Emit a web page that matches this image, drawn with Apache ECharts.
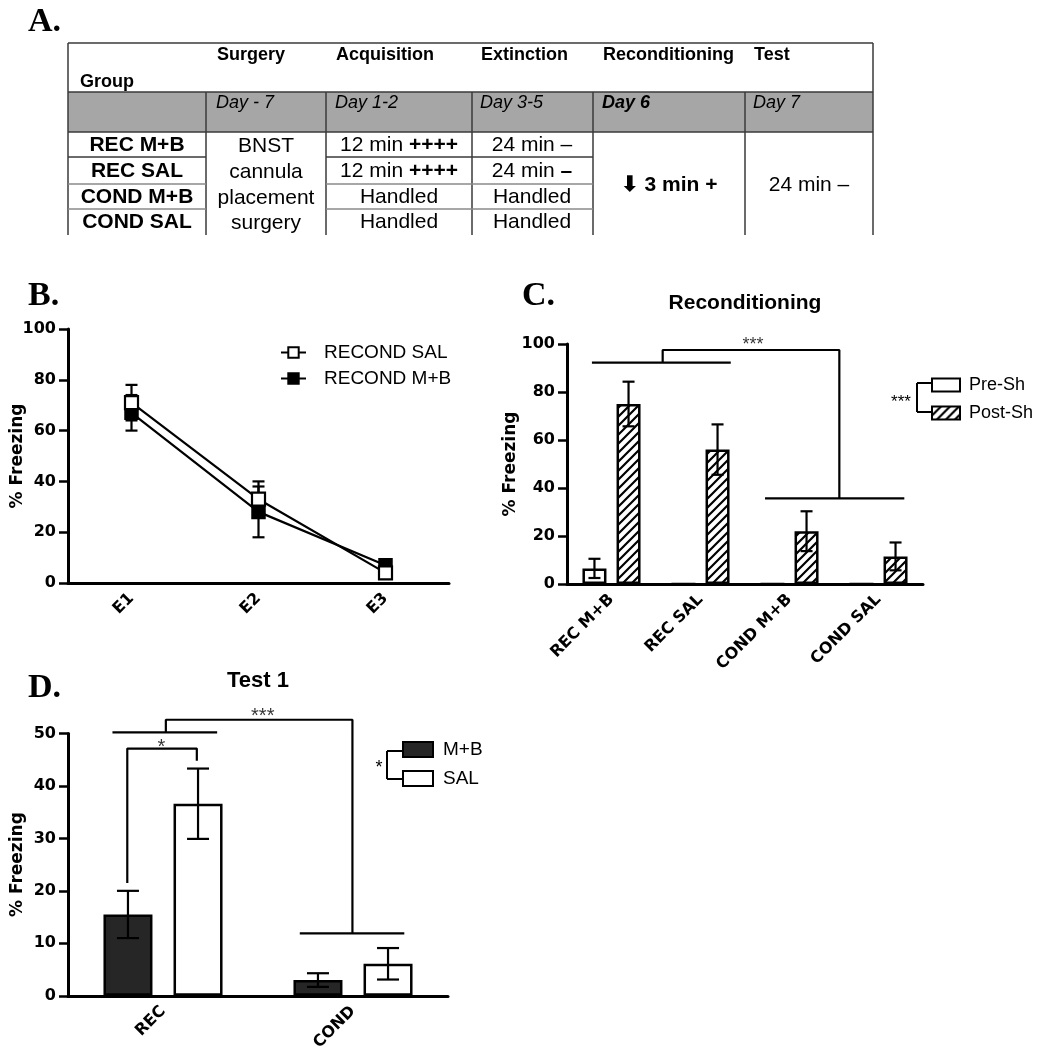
<!DOCTYPE html>
<html><head><meta charset="utf-8">
<script src="https://cdn.jsdelivr.net/npm/echarts@6/dist/echarts.min.js"></script>
<style>html,body{margin:0;padding:0;background:#fff}#c{width:1046px;height:1050px}</style>
</head><body><div id="c"></div>
<script>
// ---------------- DATA ----------------
const tableHeaders = ['Surgery', 'Acquisition', 'Extinction', 'Reconditioning', 'Test'];
const tableDays = ['Day - 7', 'Day 1-2', 'Day 3-5', 'Day 6', 'Day 7'];
const tableGroups = ['REC M+B', 'REC SAL', 'COND M+B', 'COND SAL'];
const surgeryLines = ['BNST', 'cannula', 'placement', 'surgery'];
const acquisitionCells = ['12 min {b|++++}', '12 min {b|++++}', 'Handled', 'Handled'];
const extinctionCells = ['24 min –', '24 min {b|–}', 'Handled', 'Handled'];
const reconditioningCell = '⬇ 3 min +';
const testCell = '24 min –';

const catsB = ['E1', 'E2', 'E3'];
const salB = [71, 33, 4];
const salBErr = [7, 7, 2];
const mbB = [67, 28, 7];
const mbBErr = [7, 10, 2];

const catsC = ['REC M+B', 'REC SAL', 'COND M+B', 'COND SAL'];
const preC = [6.5, 0, 0, 0];
const preCErr = [4, 0, 0, 0];
const postC = [75, 56, 22, 11.5];
const postCErr = [9.3, 10.5, 8.3, 5.8];

const catsD = ['REC', 'COND'];
const mbD = [15.5, 3.0];
const mbDErr = [4.5, 1.3];
const salD = [36.6, 6.1];
const salDErr = [6.7, 3.0];

// significance brackets: [categoryPosition, value]
const bracketsC = [
  [[-0.22, 92.2], [1.34, 92.2]],
  [[0.575, 92.2], [0.575, 97.5], [2.56, 97.5], [2.56, 35.7]],
  [[1.725, 35.7], [3.29, 35.7]]
];
const starsC = [{ value: [1.59, 99.4], name: '***' }];
const bracketsD = [
  [[-0.188, 21.5], [-0.188, 47.1], [0.178, 47.1], [0.178, 44.8]],
  [[-0.266, 50.2], [0.285, 50.2]],
  [[0.015, 50.2], [0.015, 52.6], [0.997, 52.6], [0.997, 11.9]],
  [[0.72, 11.9], [1.27, 11.9]]
];
const starsD = [{ value: [-0.008, 47.4], name: '*' }, { value: [0.525, 53.3], name: '***' }];

// ---------------- STYLE HELPERS ----------------
const AXF = 'DejaVu Sans';
const TXF = 'Liberation Sans';
const BLACK = '#000';

function hatch() {
  const s = 9;
  const c = document.createElement('canvas'); c.width = s; c.height = s;
  const g = c.getContext('2d');
  g.fillStyle = '#fff'; g.fillRect(0, 0, s, s);
  g.strokeStyle = '#000'; g.lineWidth = 2.2; g.lineCap = 'square';
  g.beginPath();
  g.moveTo(0, s); g.lineTo(s, 0);
  g.moveTo(-s / 2, s / 2); g.lineTo(s / 2, -s / 2);
  g.moveTo(s / 2, s * 1.5); g.lineTo(s * 1.5, s / 2);
  g.stroke();
  return c;
}
const hatchPattern = { image: hatch(), repeat: 'repeat' };

function catAxis(gi, data) {
  return {
    type: 'category', gridIndex: gi, data: data, boundaryGap: true,
    axisLine: { onZero: false, lineStyle: { color: BLACK, width: 3 } },
    axisTick: { alignWithLabel: true, length: 10, lineStyle: { color: BLACK, width: 3 } },
    axisLabel: { rotate: 45, margin: 13, color: BLACK, fontFamily: AXF, fontWeight: 'bold', fontSize: 16 },
    splitLine: { show: false }
  };
}
function hiddenAxis(gi, n) {
  return { type: 'value', gridIndex: gi, min: -0.5, max: n - 0.5, show: false };
}
function valAxis(gi, max, interval, nameGap) {
  return {
    type: 'value', gridIndex: gi, min: 0, max: max, interval: interval,
    axisLine: { show: true, onZero: false, lineStyle: { color: BLACK, width: 3 } },
    axisTick: { show: true, length: 9, lineStyle: { color: BLACK, width: 2.5 } },
    axisLabel: { margin: 12, color: BLACK, fontFamily: AXF, fontWeight: 'bold', fontSize: 16 },
    splitLine: { show: false },
    name: '% Freezing', nameLocation: 'middle', nameGap: nameGap, nameMoveOverlap: false,
    nameTextStyle: { color: BLACK, fontFamily: AXF, fontWeight: 'bold', fontSize: 17 }
  };
}
function errSeries(xi, yi, means, errs, offsetPx, capW, z) {
  return {
    type: 'custom', xAxisIndex: xi, yAxisIndex: yi, z: z, clip: false,
    data: means.map((m, i) => [i, m, errs[i]]),
    encode: { x: 0, y: 1 },
    renderItem: function (params, api) {
      const idx = api.value(0), m = api.value(1), e = api.value(2);
      if (!e) return null;
      const t = api.coord([idx, m + e]);
      const b = api.coord([idx, m - e]);
      const x = t[0] + offsetPx;
      const st = { stroke: BLACK, lineWidth: 2.2 };
      return {
        type: 'group', children: [
          { type: 'line', shape: { x1: x, y1: t[1], x2: x, y2: b[1] }, style: st },
          { type: 'line', shape: { x1: x - capW / 2, y1: t[1], x2: x + capW / 2, y2: t[1] }, style: st },
          { type: 'line', shape: { x1: x - capW / 2, y1: b[1], x2: x + capW / 2, y2: b[1] }, style: st }
        ]
      };
    }
  };
}
function bracketSeries(xi, yi, pts) {
  return {
    type: 'line', xAxisIndex: xi, yAxisIndex: yi, data: pts, symbol: 'none', clip: false,
    lineStyle: { color: BLACK, width: 2.2 }, z: 5, silent: true
  };
}
function starSeries(xi, yi, data, size) {
  return {
    type: 'scatter', xAxisIndex: xi, yAxisIndex: yi, data: data, symbolSize: 1, clip: false,
    itemStyle: { color: 'rgba(0,0,0,0)' }, z: 6, silent: true,
    label: { show: true, position: 'inside', formatter: '{b}', color: BLACK, fontFamily: TXF, fontSize: size }
  };
}

// bar layout (C and D)
const bwC = 24, gapC = 0.42, offC = (bwC + bwC * gapC) / 2;
const bwD = 49, gapD = 0.43, offD = (bwD + bwD * gapD) / 2;

// ---------------- TABLE GRAPHICS ----------------
const G = [];
const TT = 43, TB = 235;
const lineC = '#3a3a3a';
function L(x1, y1, x2, y2, c, w) { G.push({ type: 'line', shape: { x1, y1, x2, y2 }, style: { stroke: c || lineC, lineWidth: w || 1.5 }, silent: true }); }
function T(x, y, text, o) {
  o = o || {};
  G.push({
    type: 'text', x: x, y: y, silent: true,
    style: {
      text: text, fill: BLACK, fontFamily: o.family || TXF, fontSize: o.size || 21,
      fontWeight: o.weight || 'normal', fontStyle: o.style || 'normal',
      textAlign: o.align || 'center', textVerticalAlign: 'middle',
      rich: o.rich
    }
  });
}
G.push({ type: 'rect', shape: { x: 68, y: 92, width: 805, height: 40 }, style: { fill: '#a6a6a6' }, silent: true });
L(68, TT, 873, TT); L(68, TT, 68, TB); L(873, TT, 873, TB);
L(68, 92, 873, 92); L(68, 132, 873, 132);
[206, 326, 472, 593, 745].forEach(x => L(x, 92, x, TB));
[[157, '#3a3a3a'], [184, '#8a8a8a'], [209, '#8a8a8a']].forEach(([y, c]) => { L(68, y, 206, y, c); L(326, y, 593, y, c); });
T(80, 82, 'Group', { align: 'left', weight: 'bold', size: 18 });
const hdrX = [217, 336, 481, 603, 754];
tableHeaders.forEach((h, i) => T(hdrX[i], 55, h, { align: 'left', weight: 'bold', size: 18 }));
tableDays.forEach((d, i) => T(hdrX[i] - 1, 103, d, { align: 'left', style: 'italic', size: 18, weight: i === 3 ? 'bold' : 'normal' }));
const rowY = [145, 171, 197, 222];
const richB = { b: { fontWeight: 'bold', fontSize: 21, fontFamily: TXF, fill: BLACK } };
tableGroups.forEach((g, i) => T(137, rowY[i], g, { weight: 'bold' }));
surgeryLines.forEach((s, i) => T(266, rowY[i] + 1, s));
acquisitionCells.forEach((s, i) => T(399, rowY[i], s, { rich: richB }));
extinctionCells.forEach((s, i) => T(532, rowY[i], s, { rich: richB }));
T(669, 185, reconditioningCell, { weight: 'bold' });
T(809, 185, testCell);

// panel letters & titles
const PF = 'Liberation Serif';
T(28, 22, 'A.', { align: 'left', family: PF, weight: 'bold', size: 34 });
T(28, 296, 'B.', { align: 'left', family: PF, weight: 'bold', size: 34 });
T(522, 296, 'C.', { align: 'left', family: PF, weight: 'bold', size: 34 });
T(28, 688, 'D.', { align: 'left', family: PF, weight: 'bold', size: 34 });
T(745, 303, 'Reconditioning', { weight: 'bold', size: 21 });
T(258, 681, 'Test 1', { weight: 'bold', size: 22 });

// legend brackets
L(917, 383, 931, 383, BLACK, 2); L(917, 383, 917, 412, BLACK, 2); L(917, 412, 931, 412, BLACK, 2);
T(901, 402, '***', { size: 17 });
L(387, 751, 402, 751, BLACK, 2); L(387, 751, 387, 779, BLACK, 2); L(387, 779, 402, 779, BLACK, 2);
T(379, 768, '*', { size: 18 });

// ---------------- OPTION ----------------
const lgText = { color: BLACK, fontFamily: TXF, fontSize: 19 };
const option = {
  animation: false,
  backgroundColor: '#fff',
  grid: [
    { left: 68, top: 329, width: 381, height: 254, outerBoundsMode: 'none' },
    { left: 567, top: 344, width: 356, height: 240, outerBoundsMode: 'none' },
    { left: 68, top: 733.4, width: 380, height: 262.4, outerBoundsMode: 'none' }
  ],
  xAxis: [catAxis(0, catsB), catAxis(1, catsC), catAxis(2, catsD),
          hiddenAxis(1, catsC.length), hiddenAxis(2, catsD.length)],
  yAxis: [valAxis(0, 100, 20, 42), valAxis(1, 100, 20, 48), valAxis(2, 50, 10, 42)],
  legend: [
    { data: ['RECOND SAL', 'RECOND M+B'], left: 275, top: 338, orient: 'vertical', itemWidth: 25, itemHeight: 13, itemGap: 7, selectedMode: false, textStyle: Object.assign({ padding: [0, 0, 0, 13] }, lgText) },
    { data: ['Pre-Sh', 'Post-Sh'], left: 926, top: 371, orient: 'vertical', icon: 'rect', itemWidth: 28, itemHeight: 13, itemGap: 10, selectedMode: false, textStyle: Object.assign({ padding: [0, 0, 0, 4] }, lgText, { fontSize: 18 }) },
    { data: ['M+B', 'SAL'], left: 397, top: 735, orient: 'vertical', icon: 'rect', itemWidth: 30, itemHeight: 15, itemGap: 10, selectedMode: false, textStyle: Object.assign({ padding: [0, 0, 0, 5] }, lgText) }
  ],
  graphic: G,
  series: [
    // Panel B
    errSeries(0, 0, mbB, mbBErr, 0, 12, 1),
    errSeries(0, 0, salB, salBErr, 0, 12, 1),
    { name: 'RECOND M+B', type: 'line', xAxisIndex: 0, yAxisIndex: 0, data: mbB, symbol: 'rect', symbolSize: 13, z: 3,
      lineStyle: { color: BLACK, width: 2.2 }, itemStyle: { color: BLACK, borderColor: BLACK, borderWidth: 1.5 } },
    { name: 'RECOND SAL', type: 'line', xAxisIndex: 0, yAxisIndex: 0, data: salB, symbol: 'rect', symbolSize: 13, z: 4,
      lineStyle: { color: BLACK, width: 2.2 }, itemStyle: { color: '#fff', borderColor: BLACK, borderWidth: 2.2 } },
    // Panel C
    { name: 'Pre-Sh', type: 'bar', xAxisIndex: 1, yAxisIndex: 1, data: preC, barWidth: bwC, barGap: (gapC * 100) + '%',
      itemStyle: { color: '#fff', borderColor: BLACK, borderWidth: 2.5 } },
    { name: 'Post-Sh', type: 'bar', xAxisIndex: 1, yAxisIndex: 1, data: postC, barWidth: bwC,
      itemStyle: { color: hatchPattern, borderColor: BLACK, borderWidth: 2.5 } },
    errSeries(1, 1, preC, preCErr, -offC, 12, 5),
    errSeries(1, 1, postC, postCErr, offC, 12, 5),
    ...bracketsC.map(p => bracketSeries(3, 1, p)),
    starSeries(3, 1, starsC, 18),
    // Panel D
    { name: 'M+B', type: 'bar', xAxisIndex: 2, yAxisIndex: 2, data: mbD, barWidth: bwD, barGap: (gapD * 100) + '%',
      itemStyle: { color: '#262626', borderColor: BLACK, borderWidth: 2.5 } },
    { name: 'SAL', type: 'bar', xAxisIndex: 2, yAxisIndex: 2, data: salD, barWidth: bwD,
      itemStyle: { color: '#fff', borderColor: BLACK, borderWidth: 2.5 } },
    errSeries(2, 2, mbD, mbDErr, -offD, 22, 5),
    errSeries(2, 2, salD, salDErr, offD, 22, 5),
    ...bracketsD.map(p => bracketSeries(4, 2, p)),
    starSeries(4, 2, starsD, 20)
  ]
};
const chart = echarts.init(document.getElementById('c'), null, { renderer: 'canvas' });
chart.setOption(option);
</script>
</body></html>
